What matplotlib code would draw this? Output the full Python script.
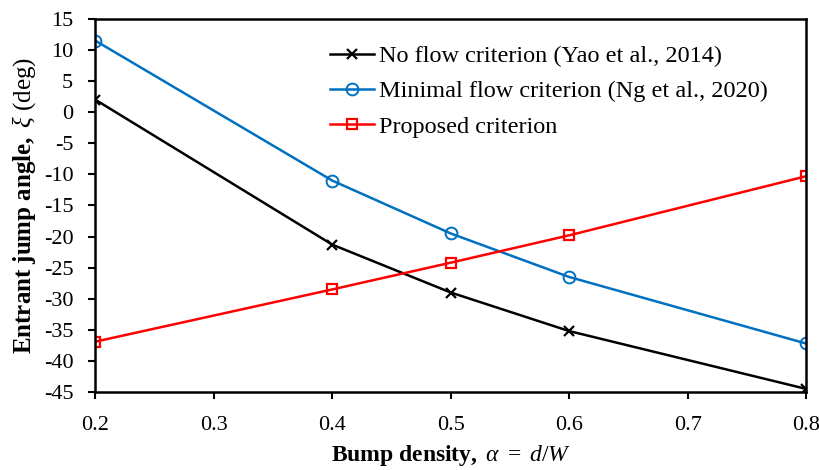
import matplotlib
matplotlib.use("Agg")
import matplotlib.pyplot as plt

plt.rcParams['font.family'] = ['Liberation Serif', 'DejaVu Serif']
plt.rcParams['mathtext.fontset'] = 'custom'
plt.rcParams['mathtext.rm'] = 'Liberation Serif'
plt.rcParams['mathtext.it'] = 'Liberation Serif:italic'
plt.rcParams['mathtext.bf'] = 'Liberation Serif:bold'

x = [0.2, 0.4, 0.5, 0.6, 0.8]
no_flow = [2.0, -21.3, -29.0, -35.2, -44.5]
minimal_flow = [11.5, -11.0, -19.5, -26.5, -37.2]
proposed = [-36.9, -28.5, -24.2, -19.8, -10.3]
labels = ["No flow criterion (Yao et al., 2014)",
          "Minimal flow criterion (Ng et al., 2020)",
          "Proposed criterion"]
xticks = [0.2, 0.3, 0.4, 0.5, 0.6, 0.7, 0.8]
yticks = list(range(-45, 16, 5))

fig = plt.figure(figsize=(8.19, 4.70), dpi=100)
ax = fig.add_axes([0.1166, 0.166, 0.8675, 0.7936])

ax.plot(x, no_flow, color='black', lw=1.8, marker='x', ms=7, mew=1.6, label=labels[0])
ax.plot(x, minimal_flow, color='#0070C0', lw=1.8, marker='o', ms=8.5, mfc='none', mew=1.4, label=labels[1])
ax.plot(x, proposed, color='#FF0000', lw=1.8, marker='s', ms=6.5, mfc='none', mew=1.6, label=labels[2])

ax.set_xlim(0.2, 0.8)
ax.set_ylim(-45, 15)
ax.set_xticks(xticks)
ax.set_xticklabels([f"{t:.1f}" for t in xticks])
ax.set_yticks(yticks)
ax.set_yticklabels([str(t) for t in yticks])
ax.tick_params(direction='out', length=5, width=1.5, labelsize=16, colors='black')
ax.tick_params(axis='y', pad=11)
ax.tick_params(axis='x', pad=12)
for s in ax.spines.values():
    s.set_linewidth(1.8)
    s.set_color('black')

ax.set_xlabel(r"$\mathbf{Bump\ density,}\ \mathit{\alpha}\ \mathrm{=}\ \mathit{d/W}$", fontsize=17, labelpad=6)
ax.set_ylabel(r"$\mathbf{Entrant\ jump\ angle,}\ \mathit{\xi}\ \mathrm{(deg)}$", fontsize=18, labelpad=4)

fig.legend(*ax.get_legend_handles_labels(), loc='upper left',
           bbox_to_anchor=(330/819, 1 - 45/470), bbox_transform=fig.transFigure,
           frameon=False, fontsize=17.5, borderpad=0, borderaxespad=0,
           handlelength=1.8, handletextpad=0.2, labelspacing=0.55)

fig.savefig("out.png", dpi=100)
